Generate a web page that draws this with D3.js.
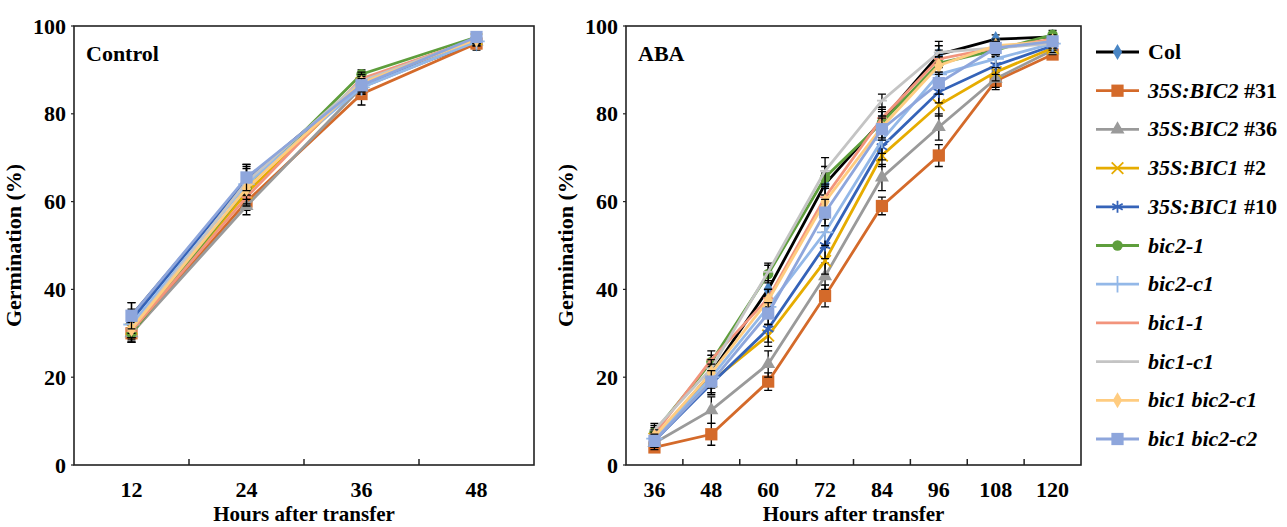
<!DOCTYPE html>
<html>
<head>
<meta charset="utf-8">
<script src="https://cdn.jsdelivr.net/npm/d3@7"></script>
<style>
  body { margin: 0; background: #fff; }
  text { font-family: "Liberation Serif", "Times New Roman", serif; font-weight: bold; fill: #000; }
</style>
</head>
<body>
<div id="wrapper"></div>
<script>
// series (legend order)
var lineNames = ["Col", "35S:BIC2 #31", "35S:BIC2 #36", "35S:BIC1 #2", "35S:BIC1 #10",
    "bic2-1", "bic2-c1", "bic1-1", "bic1-c1", "bic1 bic2-c1", "bic1 bic2-c2"];

var controlHours = [12, 24, 36, 48];
var abaHours = [36, 48, 60, 72, 84, 96, 108, 120];
var yTicks = [0, 20, 40, 60, 80, 100];

// Control: germination (%) at 12, 24, 36, 48 h
var controlVals = [
    [34, 65, 87, 96],
    [30, 60, 84.5, 96],
    [30, 59, 86, 96.5],
    [31, 62, 87, 97],
    [33, 65, 86.5, 97],
    [30, 63, 89, 97.5],
    [32, 64, 86, 96.5],
    [30.5, 61, 88, 97],
    [31, 64.5, 87.5, 97],
    [31, 63, 87, 97],
    [34, 65.5, 86.5, 97.5]
];
var controlErr = [
    [3, 3.5, 1.5, 1.5],
    [2, 2, 2.5, 1],
    [2, 2, 1.5, 1],
    [2, 2.5, 1.5, 1],
    [2.5, 3, 1.5, 1],
    [2, 2, 1, 1],
    [2, 2.5, 1.5, 1],
    [2, 2, 1.5, 1],
    [2, 3, 1.5, 1],
    [2, 2.5, 1.5, 1],
    [3, 3, 1.5, 1]
];

// ABA: germination (%) at 36 ... 120 h
var abaVals = [
    [6, 21, 40, 64, 78.5, 93.5, 97, 97.5],
    [4, 7, 19, 38.5, 59, 70.5, 87.5, 93.5],
    [5, 12.5, 23, 43, 65.5, 77, 88, 94.5],
    [6, 19, 29.5, 46.5, 70.5, 82, 89.5, 95],
    [5.5, 18.5, 31, 50, 72.5, 85, 91, 95.5],
    [7.5, 23.5, 43.5, 65.5, 78, 91.5, 94.5, 98],
    [6, 20, 36, 53, 74, 89, 92.5, 96],
    [7, 24, 38, 61, 79, 92.5, 95, 97],
    [8, 22, 44, 67, 83, 94, 95, 96],
    [6.5, 21, 37.5, 60, 77, 91, 95.5, 96.5],
    [5.5, 19, 34.5, 57.5, 76.5, 87, 95, 96.5]
];
var abaErr = [
    [2, 2.5, 2, 2.5, 2.5, 2, 1, 1],
    [1, 2.5, 2, 2.5, 2, 2.5, 2, 1],
    [1.5, 3, 3, 3, 3, 3, 2, 1],
    [1.5, 2.5, 2.5, 3, 2.5, 2.5, 2, 1],
    [1.5, 2.5, 3, 3, 3, 2.5, 2, 1],
    [1.5, 1.5, 2, 2.5, 2.5, 2, 1.5, 1],
    [1.5, 2.5, 2.5, 3, 3, 2.5, 2, 1],
    [1.5, 2, 2, 2.5, 2.5, 2, 1.5, 1],
    [1.5, 2, 2, 3, 1.5, 2.5, 1.5, 1],
    [1.5, 2, 2.5, 3, 2.5, 2, 1.5, 1],
    [1.5, 2.5, 2.5, 3, 2.5, 2.5, 1.5, 1]
];

var lineColors = ["#000000", "#d46a2a", "#9a9a9a", "#e6ac00", "#3563b8",
    "#5e9e3c", "#93b8e8", "#f2947c", "#c4c4c4", "#ffcc80", "#8ea6dc"];
var markColors = ["#4a86c5", "#d46a2a", "#9a9a9a", "#e6ac00", "#3563b8",
    "#5e9e3c", "#93b8e8", "#f2947c", "#c4c4c4", "#ffcc80", "#8ea6dc"];
var markTypes = ["diamond", "square", "triangle", "x", "asterisk",
    "circle", "plus", "dash", "dash", "diamond", "square"];

function markerPath(type) {
    if (type == "diamond") return d3.symbol(d3.symbolDiamond, 75)();
    if (type == "square") return d3.symbol(d3.symbolSquare, 150)();
    if (type == "triangle") return d3.symbol(d3.symbolTriangle, 85)();
    if (type == "circle") return d3.symbol(d3.symbolCircle, 85)();
    if (type == "x") return d3.symbol(d3.symbolTimes, 90)();
    if (type == "asterisk") return d3.symbol(d3.symbolAsterisk, 100)();
    if (type == "plus") return d3.symbol(d3.symbolPlus, 90)();
    return "M-5,0L5,0";
}
function isStroke(type) {
    return type == "x" || type == "asterisk" || type == "plus" || type == "dash";
}

var svg = d3.select("#wrapper").append("svg")
    .attr("width", 1287).attr("height", 527);

function drawPanel(cfg) {
    var x = d3.scaleBand().domain(cfg.hours).range([cfg.left, cfg.right]);
    var y = d3.scaleLinear().domain([0, 100]).range([465, 26]);
    var g = svg.append("g");

    // frame
    g.append("rect")
        .attr("x", cfg.left).attr("y", 26)
        .attr("width", cfg.right - cfg.left).attr("height", 465 - 26)
        .attr("fill", "none").attr("stroke", "#222").attr("stroke-width", 1.6);

    // x ticks between categories, pointing inwards
    var bounds = cfg.hours.slice(1).map(h => x(h));
    g.selectAll(".xt").data(bounds).enter().append("line")
        .attr("x1", d => d).attr("x2", d => d)
        .attr("y1", 465).attr("y2", 459)
        .attr("stroke", "#222").attr("stroke-width", 1.5);

    g.selectAll(".xl").data(cfg.hours).enter().append("text")
        .attr("x", d => x(d) + x.bandwidth() / 2)
        .attr("y", 497)
        .attr("text-anchor", "middle")
        .style("font-size", "22px")
        .text(d => d);

    g.selectAll(".yt").data(yTicks).enter().append("line")
        .attr("x1", cfg.left - 3).attr("x2", cfg.left)
        .attr("y1", d => y(d)).attr("y2", d => y(d))
        .attr("stroke", "#222").attr("stroke-width", 1.2);

    g.selectAll(".yl").data(yTicks).enter().append("text")
        .attr("x", cfg.left - 8)
        .attr("y", d => y(d) + 7.5)
        .attr("text-anchor", "end")
        .style("font-size", "22px")
        .text(d => d);

    g.append("text")
        .attr("transform", `translate(${cfg.left - 53},${(26 + 465) / 2}) rotate(-90)`)
        .attr("text-anchor", "middle")
        .style("font-size", "22px")
        .text("Germination (%)");

    g.append("text")
        .attr("x", (cfg.left + cfg.right) / 2)
        .attr("y", 521)
        .attr("text-anchor", "middle")
        .style("font-size", "21px")
        .text("Hours after transfer");

    g.append("text")
        .attr("x", cfg.left + 12)
        .attr("y", 61)
        .style("font-size", "22px")
        .text(cfg.title);

    var cx = h => x(h) + x.bandwidth() / 2;
    var line = d3.line().x((d, i) => cx(cfg.hours[i])).y(d => y(d));

    cfg.vals.forEach((vals, s) => {
        var sg = g.append("g");
        // error bars
        vals.forEach((v, i) => {
            var e = cfg.err[s][i];
            var px = cx(cfg.hours[i]);
            sg.append("path")
                .attr("d", `M${px},${y(v - e)}V${y(v + e)}M${px - 4},${y(v - e)}H${px + 4}M${px - 4},${y(v + e)}H${px + 4}`)
                .attr("stroke", "#000").attr("stroke-width", 1.3).attr("fill", "none");
        });
        sg.append("path")
            .attr("d", line(vals))
            .attr("fill", "none")
            .attr("stroke", lineColors[s])
            .attr("stroke-width", 2.8);
        var t = markTypes[s];
        sg.selectAll(".m").data(vals).enter().append("path")
            .attr("transform", (d, i) => `translate(${cx(cfg.hours[i])},${y(d)})`)
            .attr("d", markerPath(t))
            .attr("fill", isStroke(t) ? "none" : markColors[s])
            .attr("stroke", isStroke(t) ? markColors[s] : "none")
            .attr("stroke-width", 1.8);
    });
}

drawPanel({ hours: controlHours, vals: controlVals, err: controlErr, left: 74, right: 534, title: "Control" });
drawPanel({ hours: abaHours, vals: abaVals, err: abaErr, left: 626, right: 1081, title: "ABA" });

// legend
var legend = svg.append("g");
lineNames.forEach((name, i) => {
    var ly = 52 + i * 38.7;
    legend.append("line")
        .attr("x1", 1096).attr("x2", 1139)
        .attr("y1", ly).attr("y2", ly)
        .attr("stroke", lineColors[i]).attr("stroke-width", 2.8);
    var t = markTypes[i];
    legend.append("path")
        .attr("transform", `translate(1117.5,${ly})`)
        .attr("d", markerPath(t))
        .attr("fill", isStroke(t) ? "none" : markColors[i])
        .attr("stroke", isStroke(t) ? markColors[i] : "none")
        .attr("stroke-width", 1.8);
    var txt = legend.append("text")
        .attr("x", 1148).attr("y", ly + 7)
        .style("font-size", "22px");
    if (name == "Col") {
        txt.text(name);
    } else if (name.startsWith("35S")) {
        var parts = name.split(" ");
        txt.append("tspan").style("font-style", "italic").text(parts[0]);
        txt.append("tspan").text(" " + parts[1]);
    } else {
        txt.style("font-style", "italic").text(name);
    }
});
</script>
</body>
</html>
